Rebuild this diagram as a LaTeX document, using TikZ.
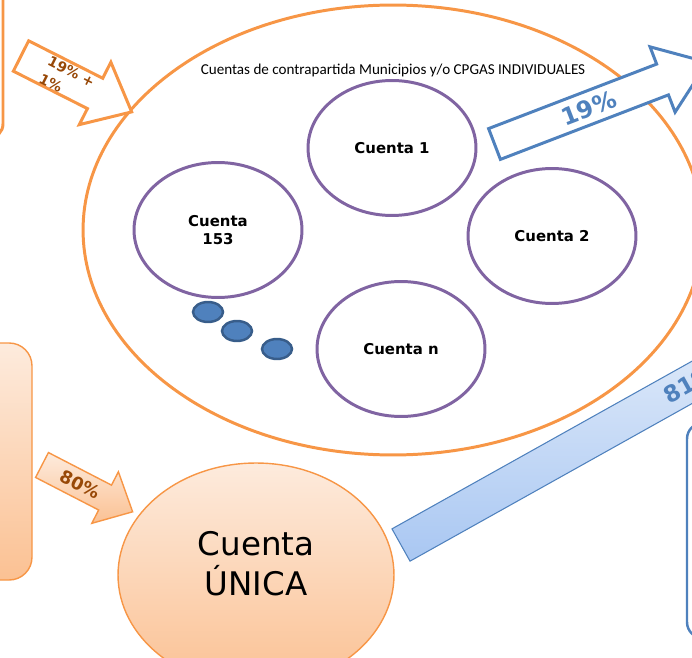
\documentclass[tikz,border=0pt]{standalone}
\usepackage{fontspec}
\setmainfont{DejaVu Sans}
\newfontfamily\calibrifont{Carlito}
\usepackage{tikz}
\usetikzlibrary{shapes.geometric}

\definecolor{accorange}{HTML}{F79646}
\definecolor{accpurple}{HTML}{8064A2}
\definecolor{accblue}{HTML}{4F81BD}
\definecolor{dotborder}{HTML}{385D8A}
\definecolor{pctbrown}{HTML}{984807}
\definecolor{peachtop}{HTML}{FDEBDD}
\definecolor{peachbot}{HTML}{FBC193}
\definecolor{bartop}{HTML}{E2ECFA}
\definecolor{barbot}{HTML}{A9C7F2}

\begin{document}
\begin{tikzpicture}[x=0.02cm, y=-0.02cm,
	orangeline/.style={draw=accorange, line width=1.7pt},
	cuentaring/.style={ellipse, draw=accpurple, line width=1.7pt, minimum width=3.36cm, minimum height=2.7cm, inner sep=0pt, font=\fontsize{8.5}{10}\selectfont\bfseries, align=center},
	dotnode/.style={ellipse, fill=accblue, draw=dotborder, line width=1.4pt, minimum width=0.6cm, minimum height=0.4cm, inner sep=0pt},
	peachfill/.style={top color=peachtop, bottom color=peachbot, draw=accorange, line width=0.8pt},
	pct/.style={text=pctbrown, font=\bfseries, align=left, inner sep=0pt}]
	\useasboundingbox (0,0) rectangle (692,658);
	\clip (0,0) rectangle (692,658);
	% boxes cut by the border
	\draw[orangeline, rounded corners=8pt] (-60,-20) rectangle (3,138);
	\draw[peachfill, rounded corners=13pt] (-60,343) rectangle (32,580);
	\draw[draw=accblue, line width=1.4pt, fill=white, rounded corners=9pt] (687,423) rectangle (760,638);
	% group of accounts
	\node[ellipse, orangeline, minimum width=12.4cm, minimum height=9cm, inner sep=0pt] (grupo) at (393,230) {};
	\node[font=\calibrifont\fontsize{8.6}{10}\selectfont] (titulo) at (393,70) {Cuentas de contrapartida Municipios y/o CPGAS INDIVIDUALES};
	\node[cuentaring] (c1) at (392,148) {Cuenta 1};
	\node[cuentaring] (c153) at (218,230) {Cuenta\\153};
	\node[cuentaring] (c2) at (552,236) {Cuenta 2};
	\node[cuentaring] (cn) at (401,349) {Cuenta n};
	\node[dotnode] (d1) at (208,312) {};
	\node[dotnode] (d2) at (237,331) {};
	\node[dotnode] (d3) at (277,349) {};
	% 19% + 1% in
	\begin{scope}[shift={(21,56)}, rotate=-26.8]
		\draw[orangeline, fill=white, line join=miter] (0,-17) -- (83,-17) -- (83,-35) -- (124,0) -- (83,35) -- (83,17) -- (0,17) -- cycle;
		\node[pct, rotate=-26.8, font=\fontsize{8}{11}\selectfont\bfseries] (in1) at (52,1) {19\% +\\1\%};
	\end{scope}
	% 19% out
	\begin{scope}[shift={(494.5,144)}, rotate=21]
		\draw[draw=accblue, line width=1.7pt, fill=white] (0,-16.5) -- (180,-16.5) -- (180,-35) -- (228,0) -- (180,35) -- (180,16.5) -- (0,16.5) -- cycle;
		\node[text=accblue, rotate=21, font=\fontsize{13.5}{15}\selectfont\bfseries] (out19) at (101,0) {19\%};
	\end{scope}
	% 80% in
	\begin{scope}[shift={(42,465)}, rotate=-27.3]
		\draw[peachfill] (0,-14) -- (71,-14) -- (71,-29) -- (102,0) -- (71,29) -- (71,14) -- (0,14) -- cycle;
		\node[pct, rotate=-27.3, font=\fontsize{10}{12}\selectfont\bfseries] (in80) at (43,0) {80\%};
	\end{scope}
	% 81% out
	\begin{scope}[shift={(401,545)}, rotate=29.2]
		\draw[draw=accblue, line width=0.6pt, top color=bartop, bottom color=barbot] (0,-18.5) rectangle (420,18.5);
		\node[text=accblue, rotate=29.2, font=\fontsize{13}{15}\selectfont\bfseries] (out81) at (330,0) {81\%};
	\end{scope}
	\node[ellipse, peachfill, minimum width=5.52cm, minimum height=4.48cm, inner sep=0pt] (unica) at (256,575) {};
	\node[font=\fontsize{18.5}{22.7}\selectfont, align=center] (unicatxt) at (256,564) {Cuenta\\ÚNICA};
\end{tikzpicture}
\end{document}
